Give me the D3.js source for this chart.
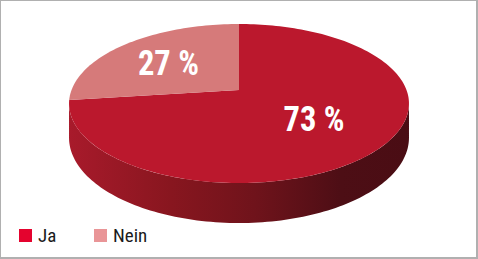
<!DOCTYPE html>
<html><head><meta charset="utf-8">
<script src="https://cdn.jsdelivr.net/npm/d3@7"></script>
<style>html,body{margin:0;padding:0;background:#fff;}svg{display:block;}</style>
</head><body>
<svg id="c" width="478" height="259"></svg>
<script>
const categories = ["Ja", "Nein"];
const values = [73, 27];
const labels = ["73 %", "27 %"];
const topColors = ["#bb182d", "#d67a7a"];
const legendColors = ["#e4032e", "#e99597"];

const svg = d3.select("#c");
const W = 478, H = 259;

// border
svg.append("rect").attr("x",0.5).attr("y",0.5).attr("width",W-1.5).attr("height",H-1.5)
  .attr("fill","#fff").attr("stroke","#b0b0b0").attr("stroke-width",1);
svg.append("line").attr("x1",W-1).attr("x2",W-1).attr("y1",0).attr("y2",H).attr("stroke","#b0b0b0").attr("stroke-width",2);
svg.append("line").attr("x1",0).attr("x2",W).attr("y1",H-1).attr("y2",H-1).attr("stroke","#b0b0b0").attr("stroke-width",2);

// perspective projection of the unit disc
const cx = 239, cy = 90, kx = 167.5, kz = 77.2, persp = 0.17, depth = 33.2;
function proj(r, ang, drop) {
  const x = r * Math.sin(ang), z = r * Math.cos(ang);
  const w = 1 + persp * z;
  return [cx + kx * x / w, cy - kz * z / w + (drop ? depth / w : 0)];
}

const pie = d3.pie().sort(null).value(d => d);
const arcs = pie(values);

// gradient for side
const defs = svg.append("defs");
const grad = defs.append("linearGradient").attr("id","side").attr("gradientUnits","userSpaceOnUse")
  .attr("x1",69).attr("x2",409).attr("y1",0).attr("y2",0);
[[0,"#a81a2b"],[0.3,"#88161f"],[0.55,"#6f131b"],[0.8,"#4d0e15"],[1,"#4a0d14"]].forEach(s =>
  grad.append("stop").attr("offset",s[0]).attr("stop-color",s[1]));

// side wall (front half)
const aR = Math.acos(-persp), aL = 2 * Math.PI - aR;
const N = 120;
const topPts = d3.range(N + 1).map(i => proj(1, aR + (aL - aR) * i / N, false));
const botPts = d3.range(N + 1).map(i => proj(1, aR + (aL - aR) * i / N, true)).reverse();
svg.append("path").attr("d", d3.line()(topPts.concat(botPts)) + "Z").attr("fill","url(#side)");

// top slices
arcs.forEach((a, i) => {
  const n = Math.max(8, Math.ceil((a.endAngle - a.startAngle) / (Math.PI * 2) * 240));
  const pts = [proj(0, 0, false)];
  for (let j = 0; j <= n; j++) pts.push(proj(1, a.startAngle + (a.endAngle - a.startAngle) * j / n, false));
  svg.append("path").attr("d", d3.line()(pts) + "Z").attr("fill", topColors[i]);
});

// labels
const labelFont = "'Liberation Sans Narrow','Roboto Condensed','DejaVu Sans Condensed',Arial,sans-serif";
const labelR = [0.56, 0.6];
const labelDy = [10.5, 13.5];
arcs.forEach((a, i) => {
  const mid = (a.startAngle + a.endAngle) / 2;
  const p = proj(labelR[i], mid, false);
  svg.append("text").attr("x", p[0]).attr("y", p[1] + labelDy[i])
    .attr("text-anchor","middle")
    .attr("font-family", labelFont).attr("font-weight","bold").attr("font-size",35)
    .attr("textLength", 61).attr("lengthAdjust","spacingAndGlyphs")
    .attr("fill","#fff").text(labels[i]);
});

// legend
const lx = d3.scaleOrdinal().domain(categories).range([19, 94]);
const lg = svg.append("g");
categories.forEach((c, i) => {
  lg.append("rect").attr("x", lx(c)).attr("y", 229).attr("width", 13).attr("height", 13).attr("fill", legendColors[i]);
  lg.append("text").attr("x", lx(c) + 19).attr("y", 242)
    .attr("font-family", labelFont).attr("font-size", 19).attr("fill","#1a1a1a").text(c);
});
</script>
</body></html>
